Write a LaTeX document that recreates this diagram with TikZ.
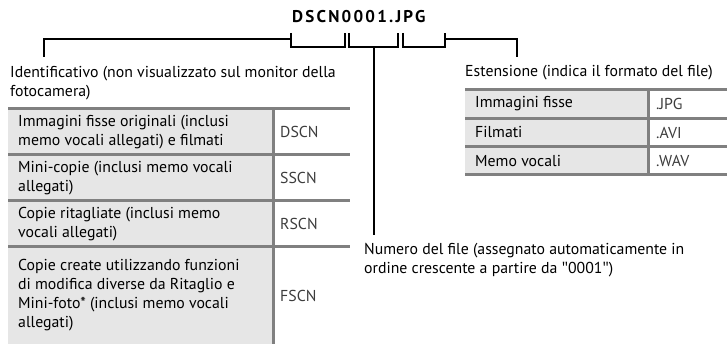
\documentclass[tikz,border=0pt]{standalone}
\usepackage{fontspec}
\setmainfont{PT Sans}
\newfontfamily\qfont{Open Sans}
\usepackage{tikz}
\usetikzlibrary{positioning}
\definecolor{rulegray}{RGB}{128,128,128}
\definecolor{cellgray}{RGB}{230,230,230}
\definecolor{codegray}{RGB}{60,60,60}
\newcommand{\dq}{{\qfont\symbol{34}}}

\begin{document}
\begin{tikzpicture}[x=1pt,y=-1pt,
  every node/.style={font=\fontsize{15.8}{19}\selectfont,inner sep=0pt},
  lbl/.style={anchor=north west,align=left},
  cell/.style={anchor=west,align=left},
  code/.style={anchor=west,text=codegray},
  brk/.style={draw=black,line width=1.6pt},
  rule/.style={draw=rulegray,line width=3pt}]
\useasboundingbox (0,0) rectangle (727,344);
\def\yt{33}
\def\yb{47}
\def\yh{39}
% file name
\node[font=\fontsize{17}{20}\selectfont\bfseries\addfontfeature{LetterSpace=13},anchor=base west] (fname) at (292,23) {DSCN0001.JPG};
% labels
\node[lbl] (ident) at (10,66) {Identificativo (non visualizzato sul monitor della\\fotocamera)};
\node[lbl] (ext) at (465,65) {Estensione (indica il formato del file)};
\node[lbl] (numero) at (364,243) {Numero del file (assegnato automaticamente in\\ordine crescente a partire da \dq0001\dq)};
% brackets
\coordinate (idtop) at (44,57);
\coordinate (a1) at (291,\yt); \coordinate (b1) at (345,\yt);
\coordinate (a2) at (349,\yt); \coordinate (b2) at (398,\yt);
\coordinate (a3) at (403,\yt); \coordinate (b3) at (445,\yt);
\coordinate (extop) at (517,57);
\coordinate (stem) at (374,\yb);
\coordinate (numtop) at (374,235);
\draw[brk] (idtop) |- (a1 |- 0,\yh);
\draw[brk] (a1) |- (b1 |- 0,\yb) -- (b1);
\draw[brk] (a2) |- (b2 |- 0,\yb) -- (b2);
\draw[brk] (a3) |- (b3 |- 0,\yb) -- (b3);
\draw[brk] (b3 |- 0,\yh) -| (extop);
\draw[brk] (stem) -- (numtop);
% prefix table
\fill[cellgray] (8,109) rectangle (273,344);
\draw[rule] (8,109) -- (350,109) (8,155) -- (350,155) (8,201) -- (350,201) (8,247) -- (350,247);
\draw[rule] (273,109) -- (273,344);
\node[cell] (p1) at (18,132) {Immagini fisse originali (inclusi\\memo vocali allegati) e filmati};
\node[cell] (p2) at (18,178) {Mini-copie (inclusi memo vocali\\allegati)};
\node[cell] (p3) at (18,224) {Copie ritagliate (inclusi memo\\vocali allegati)};
\node[cell] (p4) at (18,295.5) {Copie create utilizzando funzioni\\di modifica diverse da Ritaglio e\\Mini-foto* (inclusi memo vocali\\allegati)};
\node[code] (c1) at (280,132) {DSCN};
\node[code] (c2) at (280,178) {SSCN};
\node[code] (c3) at (280,224) {RSCN};
\node[code] (c4) at (280,295.5) {FSCN};
% extension table
\fill[cellgray] (465,90) rectangle (648,175);
\draw[rule] (465,90) -- (727,90) (465,118.5) -- (727,118.5) (465,147) -- (727,147) (465,175) -- (727,175);
\draw[rule] (648,90) -- (648,175);
\node[cell] (e1) at (475,104) {Immagini fisse};
\node[cell] (e2) at (475,132.5) {Filmati};
\node[cell] (e3) at (475,161) {Memo vocali};
\node[code] (x1) at (656,104) {.JPG};
\node[code] (x2) at (656,132.5) {.AVI};
\node[code] (x3) at (656,161) {.WAV};
\end{tikzpicture}
\end{document}
